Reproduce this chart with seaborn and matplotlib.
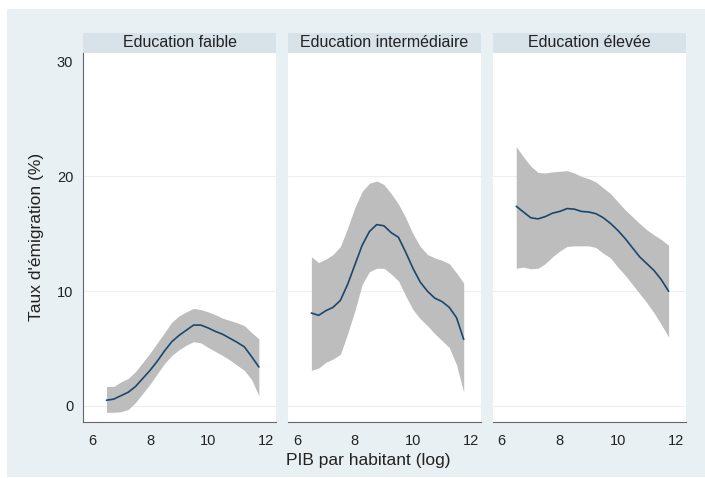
import numpy as np
import pandas as pd
import matplotlib
matplotlib.use('Agg')
import matplotlib.pyplot as plt
from matplotlib.patches import Rectangle
import seaborn as sns

# Values (grid of log GDP per capita)
pib_log = [6.5, 6.75, 7.0, 7.25, 7.5, 7.75, 8.0, 8.25, 8.5, 8.75, 9.0,
           9.25, 9.5, 9.75, 10.0, 10.25, 10.5, 10.75, 11.0, 11.25, 11.5, 11.75]

panels = ['Education faible', 'Education intermédiaire', 'Education élevée']

faible_fit = [0.5, 0.6, 0.9, 1.2, 1.7, 2.4, 3.1, 3.9, 4.8, 5.6, 6.15,
              6.6, 7.05, 7.05, 6.8, 6.5, 6.25, 5.9, 5.55, 5.15, 4.3, 3.4]
faible_hi = [1.7, 1.7, 2.1, 2.4, 3.0, 3.8, 4.6, 5.5, 6.4, 7.3, 7.85,
             8.2, 8.5, 8.4, 8.2, 7.95, 7.65, 7.45, 7.25, 7.0, 6.4, 5.85]
faible_lo = [-0.55, -0.55, -0.5, -0.3, 0.3, 1.1, 1.9, 2.8, 3.7, 4.4, 4.9,
             5.3, 5.6, 5.5, 5.1, 4.75, 4.4, 4.0, 3.55, 3.1, 2.3, 0.9]

inter_fit = [8.1, 7.9, 8.3, 8.6, 9.2, 10.6, 12.3, 14.0, 15.2, 15.8, 15.7,
             15.1, 14.7, 13.4, 12.0, 10.8, 10.0, 9.4, 9.1, 8.6, 7.7, 5.8]
inter_hi = [13.0, 12.5, 12.8, 13.2, 13.9, 15.5, 17.3, 18.7, 19.4, 19.6, 19.3,
            18.5, 17.6, 16.4, 15.0, 13.9, 13.2, 12.9, 12.7, 12.4, 11.6, 10.7]
inter_lo = [3.1, 3.3, 3.8, 4.1, 4.5, 6.3, 8.3, 10.6, 11.7, 12.0, 12.0,
            11.5, 10.9, 9.6, 8.4, 7.6, 7.0, 6.3, 5.7, 5.1, 3.6, 1.2]

eleve_fit = [17.4, 16.9, 16.4, 16.3, 16.5, 16.8, 16.95, 17.2, 17.15, 16.95, 16.9,
             16.75, 16.4, 15.9, 15.3, 14.6, 13.8, 13.0, 12.4, 11.8, 11.0, 10.0]
eleve_hi = [22.6, 21.7, 20.9, 20.35, 20.3, 20.4, 20.45, 20.5, 20.3, 20.0, 19.8,
            19.5, 19.0, 18.5, 17.8, 17.1, 16.5, 15.9, 15.35, 14.9, 14.5, 14.0]
eleve_lo = [12.0, 12.1, 11.95, 12.0, 12.4, 13.0, 13.5, 13.9, 13.95, 13.95, 13.95,
            13.8, 13.3, 12.9, 12.1, 11.4, 10.6, 9.8, 9.0, 8.1, 7.1, 6.0]

x_ticks = [6, 8, 10, 12]
y_ticks = [0, 10, 20, 30]

# Build long table
frames = []
for name, fit, lo, hi in zip(panels,
                             [faible_fit, inter_fit, eleve_fit],
                             [faible_lo, inter_lo, eleve_lo],
                             [faible_hi, inter_hi, eleve_hi]):
    frames.append(pd.DataFrame({'pib': pib_log, 'fit': fit, 'lo': lo, 'hi': hi, 'panel': name}))
df = pd.concat(frames, ignore_index=True)

sns.set_style('white')
plt.rcParams['font.family'] = ['Liberation Sans', 'DejaVu Sans']

BG = '#e9f0f3'
STRIP = '#d7e2e9'
BAND = '#bdbdbd'
LINE = '#1a476f'
AXCOL = '#666666'
TXT = '#222222'

fig, axes = plt.subplots(1, 3, figsize=(7.05, 4.78), dpi=100, sharey=True)
fig.patch.set_facecolor('white')
# light outer frame (white margin at top/left)
fig.patches.append(Rectangle((7 / 705, 1.5 / 478), 1, 1 - 10.5 / 478, transform=fig.transFigure,
                             facecolor=BG, edgecolor='none', zorder=-10))
fig.subplots_adjust(left=83 / 705, right=686 / 705, bottom=56.3 / 478, top=1 - 52.7 / 478, wspace=0.06)

for i, (ax, name) in enumerate(zip(axes, panels)):
    sub = df[df.panel == name]
    ax.fill_between(sub.pib, sub.lo, sub.hi, color=BAND, linewidth=0, zorder=2)
    sns.lineplot(data=sub, x='pib', y='fit', ax=ax, color=LINE, linewidth=1.2, zorder=3)
    ax.set_facecolor('white')
    ax.set_xlim(5.69, 12.35)
    ax.set_ylim(-1.37, 30.78)
    ax.set_xticks(x_ticks)
    ax.set_yticks(y_ticks)
    for yv in [0, 10, 20]:
        ax.axhline(yv, color='#eeeeee', linewidth=0.8, zorder=1)
    for s in ['top', 'right']:
        ax.spines[s].set_visible(False)
    ax.spines['bottom'].set_color(AXCOL)
    ax.spines['left'].set_color(AXCOL)
    ax.tick_params(axis='x', direction='out', length=5, color=AXCOL, labelsize=10.5, labelcolor=TXT, pad=4)
    ax.tick_params(axis='y', direction='out', length=5, color=AXCOL, labelsize=10.5, labelcolor=TXT, pad=2)
    if i > 0:
        ax.spines['left'].set_visible(False)
        ax.tick_params(axis='y', left=False, labelleft=False)
    ax.set_xlabel('')
    ax.set_ylabel('')
    # header strip
    h = 20 / 369
    ax.add_patch(Rectangle((0, 1), 1, h, transform=ax.transAxes, facecolor=STRIP,
                           edgecolor='none', clip_on=False))
    ax.text(0.5, 1 + h / 2, name, transform=ax.transAxes, ha='center', va='center',
            fontsize=11.5, color=TXT)

axes[0].set_ylabel("Taux d'émigration (%)", fontsize=12.5, color=TXT, labelpad=9)
fig.text(368 / 705, 1 - 460 / 478, 'PIB par habitant (log)', ha='center', va='center',
         fontsize=12.5, color=TXT)

fig.savefig('out.png', dpi=100, facecolor=fig.get_facecolor())
